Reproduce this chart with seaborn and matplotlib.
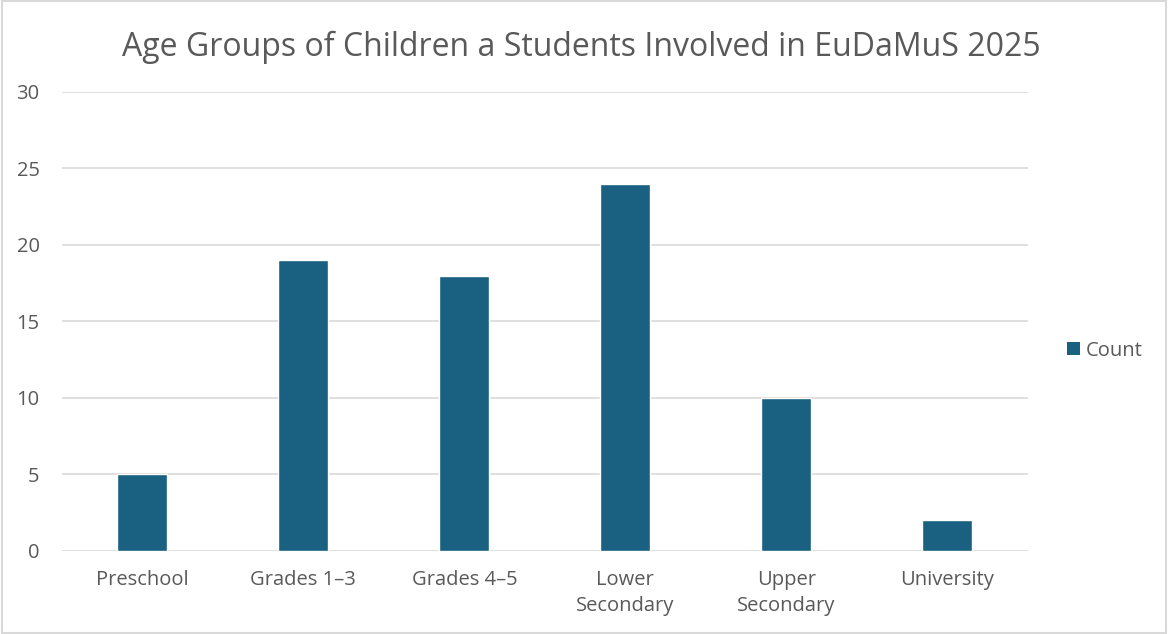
import matplotlib
matplotlib.use('Agg')
import matplotlib.pyplot as plt
import seaborn as sns
import pandas as pd
from matplotlib.patches import Patch

# data
categories = ['Preschool', 'Grades 1–3', 'Grades 4–5', 'Lower\nSecondary', 'Upper\nSecondary', 'University']
counts = [5, 19, 18, 24, 10, 2]
y_ticks = [0, 5, 10, 15, 20, 25, 30]

df = pd.DataFrame({'Group': categories, 'Count': counts})

sns.set_style('white')
plt.rcParams['font.family'] = ['Open Sans', 'DejaVu Sans']

bar_color = '#1a6080'
text_color = '#595959'
grid_color = '#d9d9d9'

fig = plt.figure(figsize=(11.68, 6.34), dpi=100)
ax = fig.add_axes([0.053, 0.131, 0.827, 0.724])

sns.barplot(data=df, x='Group', y='Count', color=bar_color, width=0.31,
            saturation=1, ax=ax, zorder=3)

ax.set_ylim(0, 30)
ax.set_yticks(y_ticks)
ax.yaxis.grid(True, color=grid_color, linewidth=1.2, zorder=0)
ax.set_axisbelow(True)
for s in ax.spines.values():
    s.set_visible(False)
ax.set_xlabel('')
ax.set_ylabel('')
ax.tick_params(axis='x', length=0, labelsize=14.5, colors=text_color, pad=14)
ax.tick_params(axis='y', length=0, labelsize=14.5, colors=text_color, pad=16)
for lbl in ax.get_xticklabels():
    lbl.set_linespacing(1.35)

fig.suptitle('Age Groups of Children a Students Involved in EuDaMuS 2025',
             x=0.498, y=0.952, fontsize=23, color=text_color)

handles = [Patch(facecolor=bar_color, edgecolor='none', label='Count')]
fig.legend(handles=handles, loc='center left', bbox_to_anchor=(0.898, 0.447),
           frameon=False, fontsize=14.5, labelcolor=text_color,
           handlelength=0.65, handleheight=0.65, handletextpad=0.3)

# light border around figure
fig.patches.append(plt.Rectangle((0.002, 0.002), 0.996, 0.996, transform=fig.transFigure,
                                 fill=False, edgecolor='#d9d9d9', linewidth=1.5))

plt.savefig('out.png', dpi=100)
plt.close()
